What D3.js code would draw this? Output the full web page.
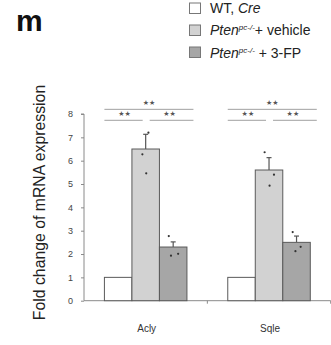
<!DOCTYPE html>
<html><head><meta charset="utf-8">
<script src="https://cdn.jsdelivr.net/npm/d3@7"></script>
<style>html,body{margin:0;padding:0;background:#fff;}svg{display:block;font-family:"Liberation Sans",Arial,sans-serif;}</style>
</head><body>
<script>
const categories = ["Acly", "Sqle"];
const groups = ["wt", "veh", "fp"];
const groupFill = ["#ffffff", "#d2d2d2", "#a6a6a6"];
const meansAcly = [1, 6.5, 2.3];
const meansSqle = [1, 5.6, 2.5];
const errAcly = [0, 0.63, 0.22];
const errSqle = [0, 0.53, 0.27];
const ptsAclyVeh = [7.2, 6.27, 5.46];
const ptsAclyFp = [2.77, 1.93, 2.01];
const ptsSqleVeh = [6.36, 5.4, 4.93];
const ptsSqleFp = [2.94, 2.12, 2.31];
const jitterAclyVeh = [0.1, -0.12, 0.02];
const jitterAclyFp = [-0.16, -0.08, 0.18];
const jitterSqleVeh = [-0.16, 0.18, 0.02];
const jitterSqleFp = [-0.14, -0.04, 0.15];
const yTicks = [0,1,2,3,4,5,6,7,8];
const sigTop = 8.2, sigLow = 7.73;

const W = 331, H = 345;
const svg = d3.select("body").append("svg").attr("width", W).attr("height", H);

const x0 = d3.scaleBand().domain(categories).range([84, 330.7]).padding(0);
const x1 = d3.scaleBand().domain(groups).range([0, x0.bandwidth()]).paddingInner(0).paddingOuter(0.742);
const y = d3.scaleLinear().domain([0, 8]).range([300.7, 114]);

const data = [
  {cat: "Acly", means: meansAcly, err: errAcly, pts: [null, ptsAclyVeh, ptsAclyFp], jit: [null, jitterAclyVeh, jitterAclyFp]},
  {cat: "Sqle", means: meansSqle, err: errSqle, pts: [null, ptsSqleVeh, ptsSqleFp], jit: [null, jitterSqleVeh, jitterSqleFp]}
];

// y axis
const yAxis = d3.axisLeft(y).tickValues(yTicks).tickSize(3).tickPadding(8);
const gy = svg.append("g").attr("transform", "translate(84,0)").call(yAxis);
gy.select(".domain").attr("stroke", "#8a8a8a").attr("d", `M-3,${y(8)}H0V${y(0)}`);
gy.selectAll(".tick line").attr("stroke", "#8a8a8a");
gy.selectAll(".tick text").attr("fill", "#444").style("font-size", "9px").style("font-family", "Liberation Sans, Arial, sans-serif");

// x baseline
svg.append("line").attr("x1", 84).attr("x2", 330.7).attr("y1", y(0)).attr("y2", y(0)).attr("stroke", "#8a8a8a");
categories.forEach(c => {
  const xe = x0(c) + x0.bandwidth();
  svg.append("line").attr("x1", xe).attr("x2", xe).attr("y1", y(0)).attr("y2", y(0) + 3).attr("stroke", "#8a8a8a");
});

// category labels
svg.selectAll(".cat").data(categories).join("text")
  .attr("x", d => x0(d) + x0.bandwidth() / 2 + 1)
  .attr("y", 332).attr("text-anchor", "middle")
  .style("font-size", "10px").attr("fill", "#333").text(d => d);

data.forEach(d => {
  const g = svg.append("g").attr("transform", `translate(${x0(d.cat)},0)`);
  const bw = x1.bandwidth();
  groups.forEach((gr, i) => {
    const bx = x1(gr);
    if (d.err[i] > 0) {
      const cx = bx + bw / 2;
      g.append("line").attr("x1", cx).attr("x2", cx).attr("y1", y(d.means[i])).attr("y2", y(d.means[i] + d.err[i])).attr("stroke", "#555").attr("stroke-width", 1.2);
      g.append("line").attr("x1", cx - 2.5).attr("x2", cx + 2.5).attr("y1", y(d.means[i] + d.err[i])).attr("y2", y(d.means[i] + d.err[i])).attr("stroke", "#555").attr("stroke-width", 1.2);
    }
    g.append("rect").attr("x", bx).attr("y", y(d.means[i])).attr("width", bw).attr("height", y(0) - y(d.means[i]))
      .attr("fill", groupFill[i]).attr("stroke", "#5a5a5a").attr("stroke-width", 1);
    if (d.pts[i]) {
      d.pts[i].forEach((v, k) => {
        g.append("circle").attr("cx", bx + bw / 2 + d.jit[i][k] * bw).attr("cy", y(v)).attr("r", 1.1).attr("fill", "#333");
      });
    }
  });
  const left = x1("wt"), mid = x1("veh") + bw / 2, right = x1("fp") + bw + 6.5;
  const line = (xa, xb, v) => g.append("line").attr("x1", xa).attr("x2", xb).attr("y1", y(v)).attr("y2", y(v)).attr("stroke", "#a0a0a0").attr("stroke-width", 1);
  const star = (xc, v) => g.append("text").attr("x", xc).attr("y", y(v) - 4).attr("text-anchor", "middle")
    .style("font-size", "7px").style("font-family", "DejaVu Sans").attr("fill", "#555").text("\u2605\u2605");
  line(left, right, sigTop); star((left + right) / 2, sigTop);
  line(left, mid - 3, sigLow); star((left + mid - 3) / 2 + 1, sigLow);
  line(mid + 4, right, sigLow); star((mid + 4 + right) / 2 - 2, sigLow);
});

// y label
svg.append("text").attr("transform", `translate(44.5,202.5) rotate(-90)`)
  .attr("text-anchor", "middle").style("font-size", "15.8px").attr("fill", "#222")
  .text("Fold change of mRNA expression");

// panel letter
svg.append("text").attr("x", 16).attr("y", 30.5).style("font-size", "30px").style("font-weight", "bold").attr("fill", "#111").text("m");

// legend
const legend = [
  {parts: [["WT, ", "n"], ["Cre", "i"]], base: 13},
  {parts: [["Pten", "i"], ["pc-/-", "s"], ["+ vehicle", "n"]], base: 35},
  {parts: [["Pten", "i"], ["pc-/-", "s"], [" + 3-FP", "n"]], base: 57.5}
];
legend.forEach((l, i) => {
  const yy = 3 + i * 22;
  svg.append("rect").attr("x", 189.5).attr("y", yy).attr("width", 11).attr("height", 10.5)
    .attr("fill", groupFill[i]).attr("stroke", "#777").attr("stroke-width", 1);
  const t = svg.append("text").attr("x", 210).attr("y", l.base).style("font-size", "14px").attr("fill", "#222");
  l.parts.forEach(p => {
    const ts = t.append("tspan").text(p[0]);
    if (p[1] === "i") ts.style("font-style", "italic");
    if (p[1] === "s") ts.style("font-style", "italic").style("font-size", "8px").attr("dy", -5);
    if (p[1] === "n" && l.parts.length === 3) ts.attr("dy", 5);
  });
});
</script>
</body></html>
